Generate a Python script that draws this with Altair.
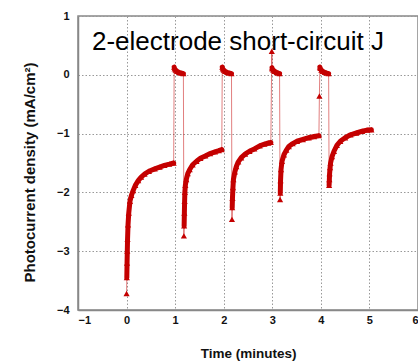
import altair as alt
import pandas as pd

# ---- data (time in minutes, photocurrent density in mA/cm^2) ----
lone_t = [0.0, 1.18, 2.17, 2.99, 3.16, 3.97]
lone_j = [-3.72, -2.74, -2.46, 0.40, -2.12, -0.36]

on1_t = [0.005, 0.01, 0.015, 0.02, 0.03, 0.045, 0.07, 0.1, 0.135, 0.18, 0.24, 0.3, 0.37, 0.46, 0.58, 0.68, 0.78, 0.88, 0.97]
on1_j = [-3.45, -3.2, -3.0, -2.8, -2.55, -2.35, -2.15, -2.05, -1.97, -1.88, -1.80, -1.74, -1.69, -1.64, -1.60, -1.57, -1.54, -1.52, -1.50]
off1_t = [0.98, 0.99, 1.01, 1.04, 1.08, 1.12, 1.17]
off1_j = [0.13, 0.10, 0.08, 0.06, 0.04, 0.03, 0.02]

on2_t = [1.185, 1.19, 1.195, 1.2, 1.21, 1.23, 1.26, 1.30, 1.36, 1.44, 1.52, 1.62, 1.72, 1.82, 1.9, 1.96]
on2_j = [-2.57, -2.35, -2.15, -2.0, -1.88, -1.78, -1.68, -1.61, -1.53, -1.47, -1.42, -1.38, -1.34, -1.31, -1.29, -1.27]
off2_t = [1.97, 1.98, 2.0, 2.03, 2.07, 2.11, 2.16]
off2_j = [0.13, 0.10, 0.08, 0.06, 0.04, 0.03, 0.02]

on3_t = [2.175, 2.18, 2.19, 2.2, 2.23, 2.26, 2.3, 2.36, 2.44, 2.53, 2.63, 2.74, 2.84, 2.92, 2.97]
on3_j = [-2.26, -2.1, -1.92, -1.78, -1.65, -1.56, -1.48, -1.41, -1.35, -1.30, -1.26, -1.21, -1.18, -1.16, -1.15]
off3_t = [2.995, 3.0, 3.02, 3.05, 3.09, 3.12, 3.15]
off3_j = [0.12, 0.10, 0.08, 0.06, 0.04, 0.03, 0.02]

on4_t = [3.165, 3.17, 3.18, 3.2, 3.24, 3.29, 3.34, 3.42, 3.51, 3.63, 3.75, 3.86, 3.96]
on4_j = [-2.01, -1.8, -1.61, -1.47, -1.36, -1.28, -1.22, -1.17, -1.13, -1.10, -1.07, -1.05, -1.035]
off4_t = [3.98, 3.99, 4.01, 4.04, 4.08, 4.12, 4.16]
off4_j = [0.13, 0.11, 0.08, 0.06, 0.04, 0.03, 0.02]

on5_t = [4.17, 4.175, 4.18, 4.19, 4.2, 4.23, 4.27, 4.33, 4.4, 4.5, 4.61, 4.73, 4.85, 4.95, 5.04]
on5_j = [-1.88, -1.78, -1.68, -1.58, -1.50, -1.39, -1.30, -1.20, -1.13, -1.07, -1.02, -0.99, -0.96, -0.94, -0.935]

x_ticks = [-1, 0, 1, 2, 3, 4, 5, 6]
y_ticks = [-4, -3, -2, -1, 0, 1]
annotation = "2-electrode short-circuit J"

# ---- assemble the trace in measurement order ----
pieces = [
    ("lone0", [lone_t[0]], [lone_j[0]], False),
    ("on1", on1_t, on1_j, True),
    ("off1", off1_t, off1_j, True),
    ("lone1", [lone_t[1]], [lone_j[1]], False),
    ("on2", on2_t, on2_j, True),
    ("off2", off2_t, off2_j, True),
    ("lone2", [lone_t[2]], [lone_j[2]], False),
    ("on3", on3_t, on3_j, True),
    ("lone3", [lone_t[3]], [lone_j[3]], False),
    ("off3", off3_t, off3_j, True),
    ("lone4", [lone_t[4]], [lone_j[4]], False),
    ("on4", on4_t, on4_j, True),
    ("lone5", [lone_t[5]], [lone_j[5]], False),
    ("off4", off4_t, off4_j, True),
    ("on5", on5_t, on5_j, True),
]
rows = []
idx = 0
for seg, ts, js, band in pieces:
    for t, j in zip(ts, js):
        rows.append({"time": t, "j": j, "seg": seg, "band": band, "idx": idx})
        idx += 1
df = pd.DataFrame(rows)

RED = "#c40000"

x_enc = alt.X("time:Q", scale=alt.Scale(domain=[-1, 6], nice=False, zero=False),
              axis=alt.Axis(values=x_ticks, title="Time (minutes)", titleY=43,
                            titleBaseline="middle", labelPadding=4, titleFontSize=13.5))
y_enc = alt.Y("j:Q", scale=alt.Scale(domain=[-4, 1], nice=False, zero=False),
              axis=alt.Axis(values=y_ticks, title="Photocurrent density (mA/cm²)",
                            titleAngle=-90, titleX=-49, titleY=156, titleBaseline="middle",
                            titleAlign="center", labelPadding=9, titleFontSize=15))

base = alt.Chart(df)

thin = base.mark_line(color=RED, strokeWidth=1, opacity=0.5, clip=True).encode(
    x=x_enc, y=y_enc, order=alt.Order("idx:Q"))

thick = base.transform_filter("datum.band").mark_line(
    color=RED, strokeWidth=5, strokeJoin="round", strokeCap="round", clip=True
).encode(x=x_enc, y=y_enc, detail="seg:N", order=alt.Order("idx:Q"))

pts = base.mark_point(shape="triangle-up", filled=True, color=RED, size=38,
                      opacity=1, clip=True).encode(x=x_enc, y=y_enc)

label = alt.Chart(pd.DataFrame({"txt": [annotation]})).mark_text(
    font="Liberation Sans", fontSize=26, color="black", align="left", baseline="alphabetic"
).encode(text="txt:N", x=alt.value(14), y=alt.value(34))

chart = alt.layer(thin, thick, pts, label).properties(
    width=340, height=294,
    autosize=alt.AutoSizeParams(type="none"),
    padding={"left": 78, "top": 16, "right": 0, "bottom": 51},
    background="white",
).configure_view(
    stroke="#888888", strokeWidth=1.5
).configure_axis(
    labelFont="Liberation Sans", labelFontWeight="bold", labelFontSize=11, labelColor="#111",
    titleFont="Liberation Sans", titleFontWeight="bold", titleColor="#111",
    ticks=False, domainColor="#888888", domainWidth=1.5,
    grid=True, gridColor="#999999", gridDash=[1.5, 2], gridWidth=1, gridOpacity=1,
)

chart.save("out.html", embed_options={"renderer": "svg", "actions": False})
